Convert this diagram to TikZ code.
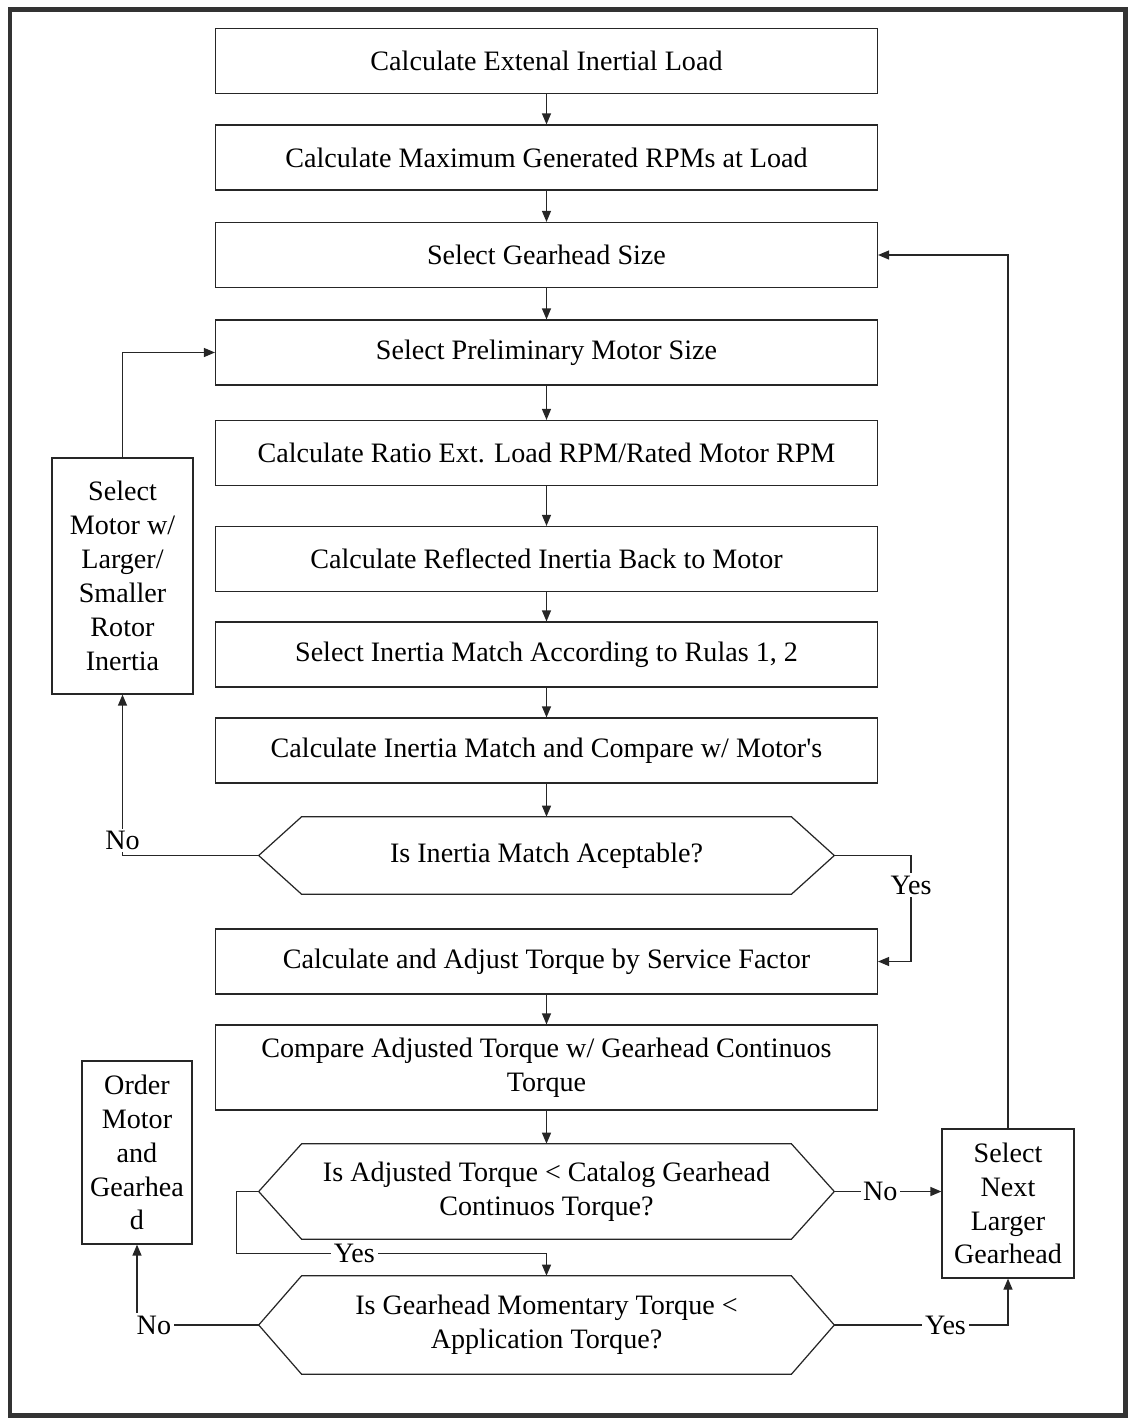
\documentclass[tikz,border=0pt]{standalone}
\usepackage{fontspec}
\setmainfont{Liberation Serif}
\usetikzlibrary{arrows.meta,calc}

\begin{document}
\begin{tikzpicture}[
  x=0.02cm, y=-0.02cm,
  font=\fontsize{16}{19.3}\selectfont,
  >={Triangle[length=2.2mm,width=1.8mm]},
  stepbox/.style={draw=black!85, line width=0.7pt, minimum width=13.24cm, minimum height=1.3cm, align=center, inner sep=2pt},
  sidebox/.style={draw=black!85, line width=0.7pt, align=center, inner sep=2pt},
  decbox/.style={minimum width=11.5cm, align=center, inner sep=2pt},
  flow/.style={->, draw=black!85, line width=0.7pt},
  lbl/.style={fill=white, inner sep=1.5pt}
]
  \useasboundingbox (0,0) rectangle (1130,1418);
  \draw[line width=0.1cm, black!80] (10,9) rectangle (1125,1415);

  % main column
  \node[stepbox] (extload) at (546.5,61) {Calculate Extenal Inertial Load};
  \node[stepbox] (maxrpm) at (546.5,157.5) {Calculate Maximum Generated RPMs at Load};
  \node[stepbox] (gearsize) at (546.5,255) {Select Gearhead Size};
  \node[stepbox] (prelim) at (546.5,352.5) {Select Preliminary Motor Size};
  \node[stepbox] (ratio) at (546.5,453) {Calculate Ratio Ext. Load RPM/Rated Motor RPM};
  \node[stepbox] (reflect) at (546.5,559) {Calculate Reflected Inertia Back to Motor};
  \node[stepbox] (rules) at (546.5,654.5) {Select Inertia Match According to Rulas 1, 2};
  \node[stepbox] (match) at (546.5,750.5) {Calculate Inertia Match and Compare w/ Motor\textquotesingle s};
  \node[decbox, minimum height=1.54cm] (inmatch) at (546.5,855.5) {Is Inertia Match Aceptable?};
  \node[stepbox] (adjtorque) at (546.5,961.5) {Calculate and Adjust Torque by Service Factor};
  \node[stepbox, minimum height=1.7cm] (cmptorque) at (546.5,1067.5) {Compare Adjusted Torque w/ Gearhead Continuos\\Torque};
  \node[decbox, minimum height=1.9cm] (contdec) at (546.5,1191.5) {Is Adjusted Torque < Catalog Gearhead\\Continuos Torque?};
  \node[decbox, minimum height=1.96cm] (momdec) at (546.5,1325) {Is Gearhead Momentary Torque <\\Application Torque?};

  % side boxes
  \node[sidebox, minimum width=2.82cm, minimum height=4.72cm] (selmotor) at (122.5,576) {Select\\Motor w/\\Larger/\\Smaller\\Rotor\\Inertia};
  \node[sidebox, minimum width=2.2cm, minimum height=3.66cm] (order) at (137,1152.5) {Order\\Motor\\and\\Gearhea\\d};
  \node[sidebox, minimum width=2.64cm, minimum height=2.98cm] (nextgear) at (1008,1203.5) {Select\\Next\\Larger\\Gearhead};

  % decision outlines
  \foreach \d in {inmatch,contdec,momdec}
    \draw[draw=black!85, line width=0.7pt] (\d.west) -- ([xshift=0.86cm]\d.north west) -- ([xshift=-0.86cm]\d.north east) -- (\d.east) -- ([xshift=-0.86cm]\d.south east) -- ([xshift=0.86cm]\d.south west) -- cycle;

  % straight flow
  \foreach \a/\b in {extload/maxrpm, maxrpm/gearsize, gearsize/prelim, prelim/ratio, ratio/reflect, reflect/rules, rules/match, match/inmatch, adjtorque/cmptorque, cmptorque/contdec}
    \draw[flow] (\a.south) -- (\b.north);

  % branches
  \draw[flow] (inmatch.west) -| node[lbl, pos=0.5, yshift=0.3cm] {No} (selmotor.south);
  \draw[flow] (selmotor.north) |- (prelim.west);
  \draw[flow] (inmatch.east) -| node[lbl, pos=0.64] {Yes} ([xshift=0.66cm]adjtorque.east) -- (adjtorque.east);
  \draw[flow] (contdec.west) -- ++(-22,0) |- node[lbl, pos=0.69] {Yes} ($(momdec.north)+(0,-22)$) -- (momdec.north);
  \draw[flow] (contdec.east) -- node[lbl, pos=0.43] {No} (contdec.east -| nextgear.west);
  \draw[flow] (momdec.east) -| node[lbl, pos=0.32] {Yes} (nextgear.south);
  \draw[flow] (momdec.west) -| node[lbl, pos=0.5, anchor=west, xshift=-2pt] {No} (order.south);
  \draw[flow] (nextgear.north) |- (gearsize.east);
\end{tikzpicture}
\end{document}
